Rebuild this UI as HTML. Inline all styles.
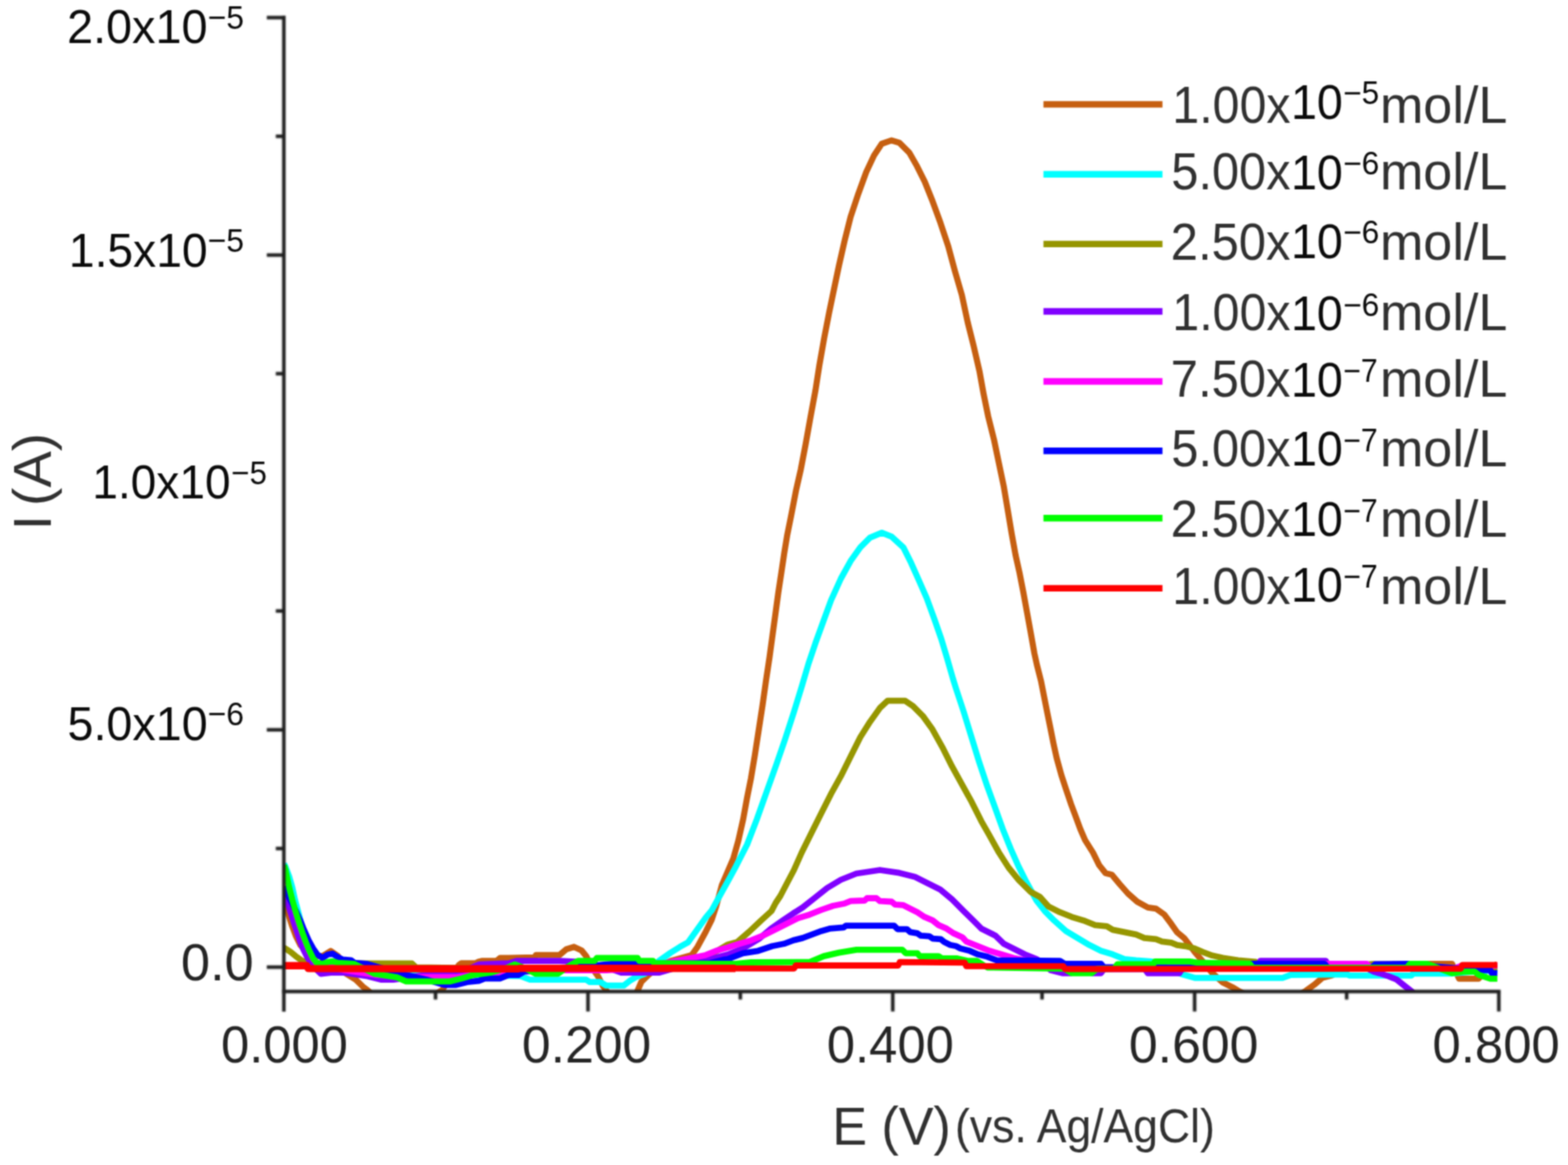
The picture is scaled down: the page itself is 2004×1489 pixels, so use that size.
<!DOCTYPE html>
<html lang="en"><head><meta charset="utf-8"><title>Differential pulse voltammograms</title>
<style>
html,body{margin:0;padding:0;background:#fff;}
body{width:2004px;height:1489px;overflow:hidden;}
svg{display:block;}
text{font-family:"Liberation Sans",Arial,Helvetica,sans-serif;white-space:pre;}
</style></head><body>
<svg width="2004" height="1489" viewBox="0 0 2004 1489">
<defs><clipPath id="plot"><rect x="362.5" y="0" width="1551.5" height="1267.3"/></clipPath>
<filter id="soft" x="0" y="0" width="2004" height="1489" filterUnits="userSpaceOnUse" color-interpolation-filters="sRGB"><feConvolveMatrix order="5" kernelMatrix="0.00087 0.00695 0.01388 0.00695 0.00087 0.00695 0.05540 0.11068 0.05540 0.00695 0.01388 0.11068 0.22111 0.11068 0.01388 0.00695 0.05540 0.11068 0.05540 0.00695 0.00087 0.00695 0.01388 0.00695 0.00087" edgeMode="duplicate" preserveAlpha="true"/></filter>
<filter id="soft2" x="300" y="0" width="1700" height="1320" filterUnits="userSpaceOnUse" color-interpolation-filters="sRGB"><feConvolveMatrix order="5" kernelMatrix="0.00142 0.00904 0.01675 0.00904 0.00142 0.00904 0.05757 0.10673 0.05757 0.00904 0.01675 0.10673 0.19786 0.10673 0.01675 0.00904 0.05757 0.10673 0.05757 0.00904 0.00142 0.00904 0.01675 0.00904 0.00142" edgeMode="none" preserveAlpha="false"/></filter></defs>
<g filter="url(#soft)">
<rect width="2004" height="1489" fill="#ffffff"/>

<g clip-path="url(#plot)" fill="none" stroke-linejoin="round" stroke-linecap="butt" stroke-width="7.8">
<path d="M362.5,1149.0 L365.0,1158.0 L369.0,1170.0 L373.5,1184.0 L378.0,1196.0 L384.0,1208.0 L392.0,1217.0 L402.0,1222.0 L412.0,1222.0 L422.6,1215.5 L432.0,1222.0 L442.8,1244.7 L454.8,1252.2 L463.8,1261.1 L469.8,1265.6 L480.0,1275.0 L550.0,1275.0 L565.5,1265.0 L575.0,1250.0 L586.4,1233.4 L589.5,1231.2 L607.5,1231.2 L612.0,1229.0 L616.5,1228.2 L634.4,1228.2 L639.0,1224.5 L650.0,1224.5 L683.4,1223.7 L685.0,1220.7 L714.9,1220.7 L723.8,1213.2 L733.6,1210.2 L743.3,1214.7 L749.3,1222.2 L756.8,1237.2 L764.3,1247.7 L770.2,1259.6 L774.7,1265.6 L780.0,1275.0 L810.0,1275.0 L815.1,1265.6 L819.6,1255.1 L828.6,1246.2 L839.1,1237.2 L857.0,1228.2 L884.0,1220.7 L891.5,1210.2 L902.0,1190.8 L909.5,1175.8 L915.4,1158.0 L922.4,1131.9 L929.8,1114.5 L937.3,1097.0 L943.6,1074.6 L949.8,1047.1 L954.8,1019.7 L959.8,994.7 L964.8,964.8 L969.8,932.3 L974.8,899.9 L979.0,870.0 L983.6,839.3 L987.3,811.9 L991.1,784.4 L994.8,757.0 L998.6,732.0 L1002.3,707.1 L1006.0,684.6 L1011.0,659.7 L1017.3,627.2 L1023.5,599.8 L1029.7,567.4 L1036.0,532.4 L1042.2,499.0 L1047.2,466.9 L1053.4,431.9 L1059.7,399.5 L1065.9,369.6 L1072.2,339.6 L1079.6,307.2 L1087.1,277.2 L1097.1,247.3 L1107.1,219.9 L1117.1,198.7 L1127.0,183.7 L1139.5,179.4 L1149.5,182.4 L1162.0,194.9 L1172.0,212.4 L1181.9,232.3 L1191.9,257.3 L1201.9,284.7 L1211.9,314.7 L1220.6,347.1 L1229.3,377.0 L1236.8,412.0 L1244.3,441.9 L1251.8,474.3 L1257.0,503.0 L1263.0,532.4 L1270.5,562.4 L1276.7,592.3 L1283.0,622.3 L1288.0,652.2 L1293.0,682.1 L1298.0,709.6 L1303.0,732.0 L1307.9,757.0 L1312.9,784.4 L1317.9,811.9 L1322.0,835.0 L1325.3,850.0 L1330.4,870.1 L1334.4,890.3 L1338.4,910.4 L1342.5,930.6 L1346.5,950.7 L1350.5,968.9 L1356.6,991.0 L1362.6,1009.2 L1368.7,1027.3 L1374.7,1043.4 L1380.7,1059.6 L1386.8,1073.7 L1396.9,1089.8 L1404.9,1105.9 L1413.0,1116.0 L1421.0,1118.0 L1431.0,1130.0 L1441.6,1142.0 L1453.5,1152.5 L1467.0,1159.9 L1477.5,1161.4 L1488.0,1168.9 L1497.0,1180.9 L1504.4,1191.4 L1513.4,1198.9 L1518.0,1204.8 L1526.9,1216.8 L1535.9,1227.3 L1549.4,1243.8 L1562.9,1255.7 L1574.9,1261.7 L1582.3,1266.2 L1600.0,1275.0 L1655.0,1275.0 L1669.2,1266.2 L1679.6,1258.7 L1690.1,1249.8 L1702.0,1246.8 L1720.0,1238.0 L1753.0,1232.5 L1831.8,1231.9 L1855.8,1231.9 L1864.8,1250.9 L1889.7,1250.9 L1900.0,1240.0 L1913.7,1232.0" stroke="#c65f10"/>
<path d="M363.0,1104.0 L365.0,1108.0 L369.5,1120.0 L373.5,1134.0 L377.0,1150.0 L380.5,1163.0 L385.0,1180.0 L390.0,1200.0 L397.0,1220.0 L404.0,1230.0 L440.0,1236.0 L480.0,1242.0 L519.0,1244.0 L562.6,1244.0 L600.0,1246.0 L640.0,1247.0 L665.4,1247.7 L677.4,1252.2 L714.9,1252.2 L749.3,1252.2 L753.8,1255.1 L767.2,1255.1 L774.7,1259.6 L797.2,1259.6 L804.7,1253.7 L812.2,1249.2 L824.1,1244.7 L834.6,1234.2 L842.1,1228.2 L857.0,1217.7 L869.0,1210.2 L879.5,1204.3 L887.0,1193.8 L894.5,1183.3 L902.0,1172.8 L909.5,1163.8 L916.9,1150.4 L924.4,1136.9 L931.9,1123.4 L940.0,1108.4 L954.8,1079.5 L967.3,1047.1 L979.7,1012.2 L992.2,977.2 L1003.4,944.8 L1014.7,909.9 L1024.7,877.4 L1033.4,848.0 L1042.2,821.9 L1052.2,794.4 L1062.2,767.0 L1074.7,739.5 L1087.1,717.1 L1099.6,699.6 L1112.1,687.1 L1127.0,680.9 L1139.5,685.9 L1154.5,699.6 L1164.5,719.6 L1174.5,742.0 L1184.4,764.5 L1194.4,791.9 L1203.1,816.9 L1210.6,841.8 L1218.1,868.0 L1221.8,879.9 L1231.7,909.9 L1241.7,942.3 L1251.7,974.8 L1261.7,1004.7 L1271.7,1032.1 L1281.6,1059.6 L1291.6,1084.5 L1301.6,1107.0 L1311.6,1127.0 L1324.8,1151.0 L1335.3,1164.4 L1347.2,1176.4 L1362.2,1189.9 L1377.2,1198.9 L1392.2,1207.8 L1407.1,1215.3 L1422.1,1219.8 L1437.1,1225.8 L1452.0,1227.3 L1471.5,1228.8 L1490.0,1236.0 L1510.5,1245.3 L1526.9,1249.8 L1639.2,1249.8 L1649.7,1246.0 L1721.6,1245.3 L1724.6,1246.8 L1762.0,1246.8 L1804.0,1246.9 L1806.0,1244.4 L1854.8,1244.4 L1880.0,1242.0 L1913.7,1240.0" stroke="#00ffff"/>
<path d="M362.5,1211.0 L365.0,1212.5 L371.5,1216.8 L377.9,1222.1 L385.5,1227.5 L393.0,1230.7 L466.8,1231.5 L526.6,1231.5 L532.0,1236.5 L600.0,1237.5 L700.0,1238.0 L735.8,1240.2 L758.3,1240.2 L790.0,1236.0 L860.0,1232.0 L900.0,1225.0 L930.4,1207.2 L942.3,1204.0 L957.3,1191.0 L972.3,1176.8 L986.0,1164.4 L991.4,1154.0 L997.4,1145.0 L1004.7,1131.0 L1014.7,1112.0 L1024.7,1089.5 L1037.1,1064.6 L1049.6,1039.6 L1062.1,1014.7 L1074.6,992.2 L1087.0,967.3 L1099.5,942.3 L1112.0,922.4 L1124.5,904.9 L1134.4,895.7 L1156.9,895.7 L1166.9,902.4 L1179.3,914.9 L1191.8,932.3 L1204.3,954.8 L1216.8,979.7 L1229.2,1002.2 L1241.7,1024.7 L1254.2,1049.6 L1264.2,1067.1 L1276.6,1089.5 L1289.1,1109.0 L1302.2,1125.0 L1317.3,1140.0 L1329.3,1146.5 L1339.8,1158.4 L1354.7,1165.9 L1369.7,1171.9 L1384.7,1176.4 L1399.6,1182.4 L1414.6,1183.9 L1422.1,1188.4 L1437.1,1191.4 L1452.0,1194.4 L1462.5,1198.9 L1477.5,1200.4 L1485.0,1203.4 L1497.0,1204.8 L1504.4,1207.8 L1515.0,1209.3 L1526.9,1212.3 L1537.4,1216.8 L1549.4,1221.3 L1562.9,1224.3 L1582.3,1227.3 L1604.8,1229.5 L1612.0,1236.5 L1748.0,1237.0 L1750.0,1232.5 L1756.0,1232.5 L1758.0,1237.0 L1913.7,1237.0" stroke="#969600"/>
<path d="M362.5,1139.0 L366.5,1150.0 L371.0,1165.0 L375.5,1179.0 L379.5,1191.0 L383.5,1203.0 L388.0,1214.0 L393.0,1224.0 L400.0,1235.0 L410.2,1244.7 L425.0,1243.0 L439.8,1243.2 L469.8,1247.7 L487.7,1252.2 L502.7,1252.2 L530.0,1248.0 L567.0,1243.0 L589.0,1245.0 L600.0,1238.0 L612.0,1232.7 L650.0,1231.2 L660.0,1228.2 L715.0,1228.2 L750.0,1230.0 L780.0,1238.0 L794.0,1243.2 L842.0,1243.2 L860.0,1238.0 L900.0,1228.0 L930.0,1220.0 L950.0,1212.0 L970.0,1200.0 L985.4,1186.9 L1000.4,1176.4 L1013.8,1167.4 L1025.8,1159.9 L1040.8,1148.0 L1057.1,1135.0 L1074.6,1124.5 L1094.5,1116.5 L1124.5,1112.0 L1149.4,1115.7 L1169.4,1120.7 L1186.8,1129.4 L1201.8,1136.9 L1216.8,1149.4 L1231.7,1164.4 L1244.2,1176.8 L1254.4,1186.9 L1272.4,1195.9 L1282.9,1206.3 L1294.9,1212.3 L1309.8,1219.8 L1324.8,1225.8 L1335.0,1232.0 L1342.8,1240.0 L1357.7,1243.8 L1368.2,1243.8 L1372.0,1239.0 L1393.0,1239.0 L1396.6,1243.8 L1407.1,1243.8 L1411.0,1238.5 L1463.0,1238.5 L1467.0,1243.8 L1507.4,1243.8 L1511.0,1238.0 L1606.0,1237.5 L1610.8,1228.1 L1694.6,1228.1 L1698.0,1237.0 L1748.0,1238.0 L1756.0,1242.0 L1763.0,1243.9 L1774.9,1247.9 L1784.9,1251.9 L1794.9,1259.9 L1803.9,1266.8 L1815.0,1277.0 L1913.7,1277.0" stroke="#8000ff"/>
<path d="M363.0,1114.0 L365.0,1118.0 L369.3,1135.0 L373.6,1151.0 L377.9,1166.0 L382.2,1180.0 L386.5,1193.0 L390.8,1204.5 L395.1,1215.0 L400.5,1226.0 L405.0,1232.0 L440.0,1240.0 L480.0,1246.0 L537.0,1249.0 L582.0,1249.0 L620.0,1244.0 L700.0,1240.2 L775.0,1240.0 L820.0,1237.0 L864.5,1228.2 L887.0,1223.7 L902.0,1220.7 L917.0,1214.7 L930.0,1211.0 L945.0,1206.3 L959.9,1201.9 L974.9,1195.9 L989.9,1188.4 L1004.9,1180.9 L1019.8,1173.4 L1034.8,1168.9 L1049.8,1162.9 L1064.7,1157.7 L1079.7,1154.7 L1087.2,1151.7 L1105.1,1151.0 L1108.1,1148.0 L1120.1,1148.0 L1124.6,1151.7 L1139.6,1152.5 L1144.1,1156.2 L1154.6,1156.9 L1163.5,1161.4 L1172.5,1165.9 L1181.5,1171.9 L1192.0,1176.4 L1199.5,1182.4 L1209.9,1186.9 L1218.9,1192.9 L1230.0,1198.0 L1235.0,1203.4 L1249.9,1209.3 L1264.9,1215.3 L1279.9,1219.8 L1294.9,1224.3 L1309.8,1227.3 L1340.0,1232.0 L1400.0,1236.5 L1690.0,1237.0 L1694.6,1231.8 L1747.0,1231.8 L1751.0,1237.0 L1860.0,1237.5 L1869.0,1234.0 L1913.7,1234.0" stroke="#ff00ff"/>
<path d="M362.5,1133.0 L366.0,1140.0 L372.0,1152.0 L378.5,1165.0 L383.5,1176.0 L387.5,1186.0 L391.0,1194.0 L395.0,1203.0 L400.0,1212.0 L405.5,1220.0 L412.3,1224.3 L418.8,1220.0 L425.2,1218.9 L431.7,1223.2 L438.1,1226.4 L448.8,1227.5 L453.1,1230.7 L468.2,1231.8 L490.0,1238.0 L522.2,1246.9 L545.0,1252.0 L568.6,1258.9 L582.0,1258.9 L597.0,1255.1 L612.0,1253.7 L619.5,1250.7 L638.9,1250.7 L650.0,1246.2 L662.5,1246.2 L670.0,1241.7 L696.9,1240.2 L740.0,1236.0 L782.0,1232.0 L906.0,1231.2 L924.4,1226.7 L930.0,1225.8 L949.5,1218.3 L968.9,1215.3 L986.9,1209.3 L1001.9,1206.3 L1013.8,1201.9 L1025.8,1198.9 L1037.8,1194.4 L1049.8,1189.9 L1060.2,1186.9 L1078.2,1185.4 L1081.2,1183.1 L1142.6,1183.1 L1147.1,1187.6 L1159.0,1187.6 L1163.5,1191.4 L1172.5,1192.9 L1177.0,1195.9 L1187.5,1196.6 L1192.0,1199.6 L1202.5,1200.4 L1206.9,1204.1 L1214.4,1207.8 L1221.9,1209.3 L1227.5,1212.3 L1239.5,1215.3 L1249.9,1219.8 L1261.9,1222.8 L1273.9,1227.3 L1354.7,1228.1 L1360.7,1231.8 L1407.1,1231.8 L1411.0,1236.5 L1594.0,1236.5 L1598.8,1231.8 L1693.1,1231.8 L1697.0,1237.0 L1753.0,1237.0 L1757.5,1232.5 L1800.0,1231.9 L1830.0,1235.0 L1887.7,1239.9 L1904.7,1239.9 L1906.7,1243.9 L1913.7,1243.9" stroke="#0000ff"/>
<path d="M363.0,1106.0 L365.0,1112.5 L369.3,1133.0 L373.6,1150.2 L377.9,1165.2 L382.2,1179.2 L386.5,1192.1 L390.8,1203.9 L395.1,1214.6 L400.5,1225.4 L404.8,1230.7 L412.0,1232.0 L418.8,1229.7 L425.2,1228.6 L431.7,1230.7 L452.1,1231.8 L465.0,1238.0 L478.7,1244.7 L507.2,1249.2 L519.2,1254.4 L574.6,1254.4 L589.5,1250.7 L604.5,1246.2 L627.0,1243.2 L645.0,1238.0 L658.0,1232.7 L672.0,1238.0 L685.0,1244.7 L713.0,1244.7 L725.0,1236.0 L738.8,1228.2 L759.8,1228.2 L762.8,1224.5 L815.0,1224.5 L817.0,1228.2 L834.6,1228.2 L836.0,1231.2 L861.6,1231.2 L909.0,1232.0 L940.0,1232.0 L960.0,1230.0 L1034.8,1229.6 L1052.8,1222.1 L1072.2,1217.6 L1094.7,1213.8 L1153.0,1213.8 L1157.5,1218.3 L1172.5,1218.3 L1175.5,1222.1 L1199.5,1222.1 L1204.0,1225.0 L1223.4,1225.0 L1236.5,1228.1 L1248.4,1228.1 L1256.0,1233.0 L1262.0,1236.5 L1360.0,1238.0 L1369.7,1243.8 L1395.1,1243.8 L1402.0,1238.5 L1424.0,1238.0 L1428.0,1232.5 L1474.0,1232.5 L1476.0,1228.8 L1520.0,1228.8 L1530.0,1230.3 L1597.3,1231.8 L1601.0,1237.0 L1798.0,1237.0 L1801.9,1231.9 L1823.8,1231.9 L1840.0,1238.0 L1855.8,1243.9 L1869.7,1241.9 L1884.7,1241.9 L1890.0,1246.0 L1904.7,1250.9 L1913.7,1250.9" stroke="#00ff00"/>
<path d="M362.5,1234.0 L392.0,1234.0 L394.0,1237.7 L640.0,1238.5 L662.0,1238.7 L664.0,1237.2 L1015.0,1237.8 L1017.0,1234.0 L1148.0,1234.0 L1150.0,1229.6 L1233.0,1230.3 L1235.0,1234.8 L1359.0,1234.8 L1361.0,1238.5 L1867.0,1238.0 L1869.0,1233.4 L1913.7,1233.4" stroke="#ff0000"/>
<path d="M362.5,1234.3 L392.0,1234.3 L394.0,1237.9 L640.0,1238.3 L662.0,1238.3 L664.0,1237.6 L940.0,1237.8" stroke="#ff0000" stroke-width="9.4"/>
</g>
<g stroke="#1e1e1e" stroke-width="4.5" fill="none" stroke-linecap="butt" filter="url(#soft2)">
<path d="M362.8,20 V1293"/>
<path d="M360.55,1267.3 H1917.85"/>
<path d="M341,22.5 H362.8"/>
<path d="M341,326.0 H362.8"/>
<path d="M341,932.8 H362.8"/>
<path d="M341,1236.1 H362.8"/>
<path d="M352.5,174.2 H362.8"/>
<path d="M352.5,477.6 H362.8"/>
<path d="M352.5,780.9 H362.8"/>
<path d="M352.5,1084.5 H362.8"/>
<path d="M751.5,1267.3 V1292.8"/>
<path d="M1141.0,1267.3 V1292.8"/>
<path d="M1526.8,1267.3 V1292.8"/>
<path d="M1915.6,1267.3 V1292.8"/>
<path d="M556.6,1267.3 V1277.5"/>
<path d="M946.2,1267.3 V1277.5"/>
<path d="M1331.8,1267.3 V1277.5"/>
<path d="M1721.1,1267.3 V1277.5"/>
</g>
<text><tspan x="85.71" y="55.40" font-size="62.00" fill="#0a0a0a" textLength="179.63" lengthAdjust="spacingAndGlyphs">2.0x10</tspan><tspan x="265.57" y="36.70" font-size="42.50" fill="#0a0a0a" textLength="46.37" lengthAdjust="spacingAndGlyphs">−5</tspan></text>
<text><tspan x="88.07" y="341.10" font-size="62.00" fill="#0a0a0a" textLength="177.24" lengthAdjust="spacingAndGlyphs">1.5x10</tspan><tspan x="265.57" y="322.40" font-size="42.50" fill="#0a0a0a" textLength="46.37" lengthAdjust="spacingAndGlyphs">−5</tspan></text>
<text><tspan x="118.09" y="637.40" font-size="62.00" fill="#0a0a0a" textLength="176.51" lengthAdjust="spacingAndGlyphs">1.0x10</tspan><tspan x="295.60" y="618.70" font-size="42.50" fill="#0a0a0a" textLength="45.50" lengthAdjust="spacingAndGlyphs">−5</tspan></text>
<text><tspan x="86.32" y="945.60" font-size="62.00" fill="#0a0a0a" textLength="179.02" lengthAdjust="spacingAndGlyphs">5.0x10</tspan><tspan x="265.57" y="926.50" font-size="42.50" fill="#0a0a0a" textLength="46.26" lengthAdjust="spacingAndGlyphs">−6</tspan></text>
<text><tspan x="231.23" y="1252.90" font-size="67.00" fill="#242424" textLength="92.96" lengthAdjust="spacingAndGlyphs">0.0</tspan></text>
<text><tspan x="282.41" y="1358.30" font-size="67.00" fill="#242424" textLength="162.22" lengthAdjust="spacingAndGlyphs">0.000</tspan></text>
<text><tspan x="667.06" y="1358.30" font-size="67.00" fill="#242424" textLength="165.32" lengthAdjust="spacingAndGlyphs">0.200</tspan></text>
<text><tspan x="1056.81" y="1358.30" font-size="67.00" fill="#242424" textLength="162.22" lengthAdjust="spacingAndGlyphs">0.400</tspan></text>
<text><tspan x="1442.65" y="1358.30" font-size="67.00" fill="#242424" textLength="165.84" lengthAdjust="spacingAndGlyphs">0.600</tspan></text>
<text><tspan x="1830.70" y="1358.30" font-size="67.00" fill="#242424" textLength="162.84" lengthAdjust="spacingAndGlyphs">0.800</tspan></text>
<text><tspan x="1063.78" y="1463.30" font-size="68.00" fill="#303030" textLength="169.98" lengthAdjust="spacingAndGlyphs">E (V) </tspan><tspan x="1220.58" y="1459.50" font-size="61.50" fill="#303030" textLength="332.13" lengthAdjust="spacingAndGlyphs">(vs. Ag/AgCl)</tspan></text>
<text transform="translate(64.5,677.70) rotate(-90) scale(1.0340,1)" font-size="67.7" fill="#303030">I<tspan dx="-7.6"> (A)</tspan></text>
<g fill="none" stroke-width="8.4" stroke-linecap="butt">
<path d="M1333.6,133.4 H1485.7" stroke="#c65f10"/>
<path d="M1333.6,222.7 H1485.7" stroke="#00ffff"/>
<path d="M1333.6,311.9 H1485.7" stroke="#969600"/>
<path d="M1333.6,398.0 H1485.7" stroke="#8000ff"/>
<path d="M1333.6,487.5 H1485.7" stroke="#ff00ff"/>
<path d="M1333.6,576.3 H1485.7" stroke="#0000ff"/>
<path d="M1333.6,662.3 H1485.7" stroke="#00ff00"/>
<path d="M1333.6,751.9 H1485.7" stroke="#ff0000"/>
</g>
<text><tspan x="1498.37" y="156.60" font-size="67.00" fill="#303030" textLength="151.03" lengthAdjust="spacingAndGlyphs">1.00x</tspan><tspan x="1649.92" y="152.00" font-size="63.00" fill="#0a0a0a" textLength="66.41" lengthAdjust="spacingAndGlyphs">10</tspan><tspan x="1716.68" y="132.50" font-size="42.00" fill="#0a0a0a" textLength="46.04" lengthAdjust="spacingAndGlyphs">−5</tspan><tspan x="1763.67" y="156.60" font-size="67.00" fill="#303030" textLength="162.78" lengthAdjust="spacingAndGlyphs">mol/L</tspan></text>
<text><tspan x="1497.01" y="241.90" font-size="67.00" fill="#303030" textLength="152.40" lengthAdjust="spacingAndGlyphs">5.00x</tspan><tspan x="1649.92" y="241.90" font-size="63.00" fill="#0a0a0a" textLength="66.41" lengthAdjust="spacingAndGlyphs">10</tspan><tspan x="1716.67" y="223.10" font-size="42.00" fill="#0a0a0a" textLength="46.26" lengthAdjust="spacingAndGlyphs">−6</tspan><tspan x="1763.67" y="241.90" font-size="67.00" fill="#303030" textLength="162.78" lengthAdjust="spacingAndGlyphs">mol/L</tspan></text>
<text><tspan x="1496.37" y="331.60" font-size="67.00" fill="#303030" textLength="153.04" lengthAdjust="spacingAndGlyphs">2.50x</tspan><tspan x="1649.92" y="330.40" font-size="63.00" fill="#0a0a0a" textLength="66.41" lengthAdjust="spacingAndGlyphs">10</tspan><tspan x="1716.67" y="310.90" font-size="42.00" fill="#0a0a0a" textLength="46.26" lengthAdjust="spacingAndGlyphs">−6</tspan><tspan x="1763.67" y="331.60" font-size="67.00" fill="#303030" textLength="162.78" lengthAdjust="spacingAndGlyphs">mol/L</tspan></text>
<text><tspan x="1498.37" y="421.50" font-size="67.00" fill="#303030" textLength="151.03" lengthAdjust="spacingAndGlyphs">1.00x</tspan><tspan x="1649.92" y="422.20" font-size="63.00" fill="#0a0a0a" textLength="66.41" lengthAdjust="spacingAndGlyphs">10</tspan><tspan x="1716.67" y="403.90" font-size="42.00" fill="#0a0a0a" textLength="46.26" lengthAdjust="spacingAndGlyphs">−6</tspan><tspan x="1763.67" y="421.50" font-size="67.00" fill="#303030" textLength="162.78" lengthAdjust="spacingAndGlyphs">mol/L</tspan></text>
<text><tspan x="1496.37" y="506.60" font-size="67.00" fill="#303030" textLength="153.04" lengthAdjust="spacingAndGlyphs">7.50x</tspan><tspan x="1649.92" y="506.60" font-size="63.00" fill="#0a0a0a" textLength="66.41" lengthAdjust="spacingAndGlyphs">10</tspan><tspan x="1716.77" y="488.20" font-size="42.00" fill="#0a0a0a" textLength="44.07" lengthAdjust="spacingAndGlyphs">−7</tspan><tspan x="1763.67" y="506.60" font-size="67.00" fill="#303030" textLength="162.78" lengthAdjust="spacingAndGlyphs">mol/L</tspan></text>
<text><tspan x="1497.01" y="596.10" font-size="67.00" fill="#303030" textLength="152.40" lengthAdjust="spacingAndGlyphs">5.00x</tspan><tspan x="1649.92" y="594.90" font-size="63.00" fill="#0a0a0a" textLength="66.41" lengthAdjust="spacingAndGlyphs">10</tspan><tspan x="1716.77" y="576.60" font-size="42.00" fill="#0a0a0a" textLength="44.07" lengthAdjust="spacingAndGlyphs">−7</tspan><tspan x="1763.67" y="596.10" font-size="67.00" fill="#303030" textLength="162.78" lengthAdjust="spacingAndGlyphs">mol/L</tspan></text>
<text><tspan x="1496.37" y="685.70" font-size="67.00" fill="#303030" textLength="153.04" lengthAdjust="spacingAndGlyphs">2.50x</tspan><tspan x="1649.92" y="684.50" font-size="63.00" fill="#0a0a0a" textLength="66.41" lengthAdjust="spacingAndGlyphs">10</tspan><tspan x="1716.77" y="666.60" font-size="42.00" fill="#0a0a0a" textLength="44.07" lengthAdjust="spacingAndGlyphs">−7</tspan><tspan x="1763.67" y="685.70" font-size="67.00" fill="#303030" textLength="162.78" lengthAdjust="spacingAndGlyphs">mol/L</tspan></text>
<text><tspan x="1498.37" y="771.50" font-size="67.00" fill="#303030" textLength="151.03" lengthAdjust="spacingAndGlyphs">1.00x</tspan><tspan x="1649.92" y="769.20" font-size="63.00" fill="#0a0a0a" textLength="66.41" lengthAdjust="spacingAndGlyphs">10</tspan><tspan x="1716.77" y="750.90" font-size="42.00" fill="#0a0a0a" textLength="44.07" lengthAdjust="spacingAndGlyphs">−7</tspan><tspan x="1763.67" y="771.50" font-size="67.00" fill="#303030" textLength="162.78" lengthAdjust="spacingAndGlyphs">mol/L</tspan></text>
</g></svg></body></html>
